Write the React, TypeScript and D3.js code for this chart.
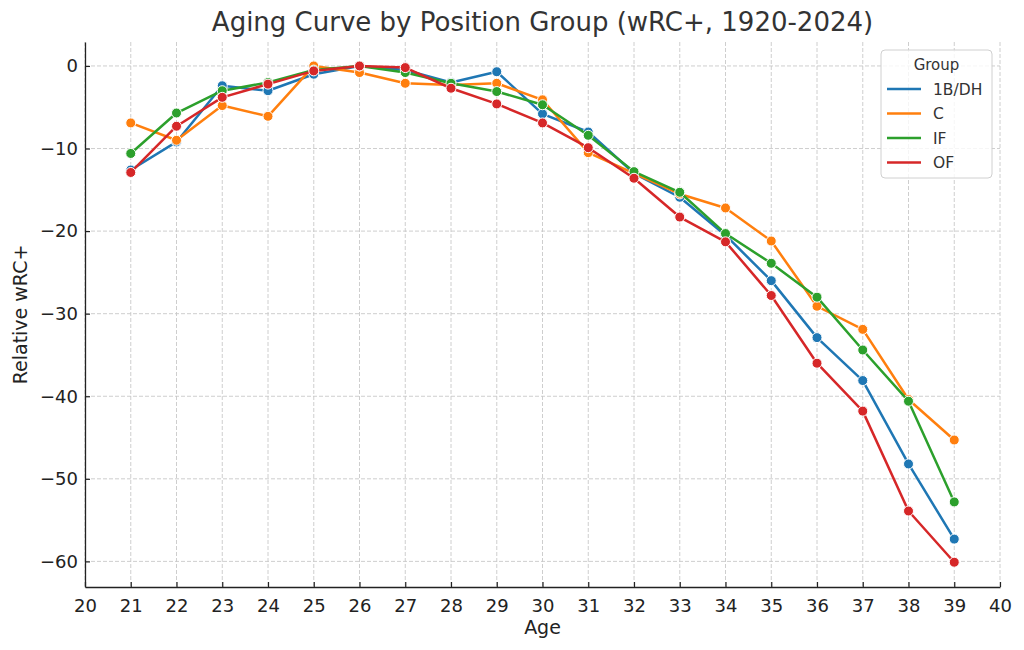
import React, { useEffect, useRef } from 'react';
import * as d3 from 'd3';

const ages = [21, 22, 23, 24, 25, 26, 27, 28, 29, 30, 31, 32, 33, 34, 35, 36, 37, 38, 39];
const groups = ['1B/DH', 'C', 'IF', 'OF'];
const colors = ['#1f77b4', '#ff7f0e', '#2ca02c', '#d62728'];

const firstBaseDh = [-12.6, -9.2, -2.4, -3.0, -1.0, 0, -0.5, -2.0, -0.7, -5.8, -8.0, -13.0, -15.9, -20.5, -26.0, -32.9, -38.1, -48.2, -57.3];
const catcher = [-6.9, -9.0, -4.8, -6.1, 0, -0.8, -2.1, -2.3, -2.1, -4.1, -10.5, -13.0, -15.5, -17.2, -21.2, -29.1, -31.9, -40.4, -45.3];
const infield = [-10.6, -5.7, -3.0, -2.0, -0.5, 0, -0.8, -2.1, -3.1, -4.7, -8.4, -12.8, -15.3, -20.3, -23.9, -28.0, -34.4, -40.6, -52.8];
const outfield = [-12.9, -7.3, -3.8, -2.2, -0.6, 0, -0.2, -2.7, -4.6, -6.9, -9.9, -13.6, -18.3, -21.3, -27.8, -36.0, -41.8, -53.9, -60.1];

const seriesValues = [firstBaseDh, catcher, infield, outfield];
const xTicks = d3.range(20, 41, 1);
const yTicks = [0, -10, -20, -30, -40, -50, -60];

const FONT = '"DejaVu Sans", sans-serif';

export default function App() {
  const svgRef = useRef<SVGSVGElement>(null);

  useEffect(() => {
    if (!svgRef.current) return;
    const svg = d3.select(svgRef.current);
    svg.selectAll('*').remove();

    const width = 1024;
    const height = 650;
    const margin = { top: 42, right: 24, bottom: 63, left: 85 };
    const innerWidth = width - margin.left - margin.right;
    const innerHeight = height - margin.top - margin.bottom;

    const xScale = d3.scaleLinear().domain([20, 40]).range([0, innerWidth]);
    const yScale = d3.scaleLinear().domain([-63.1, 2.9]).range([innerHeight, 0]);

    const g = svg.append('g').attr('transform', `translate(${margin.left}, ${margin.top})`);

    // grid
    g.append('g')
      .selectAll('line')
      .data(xTicks)
      .enter()
      .append('line')
      .attr('x1', d => xScale(d))
      .attr('x2', d => xScale(d))
      .attr('y1', 0)
      .attr('y2', innerHeight)
      .attr('stroke', '#c8c8c8')
      .attr('stroke-width', 0.9)
      .attr('stroke-dasharray', '4,2');

    g.append('g')
      .selectAll('line')
      .data(yTicks)
      .enter()
      .append('line')
      .attr('x1', 0)
      .attr('x2', innerWidth)
      .attr('y1', d => yScale(d))
      .attr('y2', d => yScale(d))
      .attr('stroke', '#c8c8c8')
      .attr('stroke-width', 0.9)
      .attr('stroke-dasharray', '4,2');

    // axes
    const xAxis = d3.axisBottom(xScale).tickValues(xTicks).tickSizeInner(-5).tickSizeOuter(0).tickPadding(12).tickFormat(d3.format('d'));
    g.append('g')
      .attr('transform', `translate(0, ${innerHeight})`)
      .call(xAxis)
      .call(s => s.select('.domain').attr('stroke', '#222').attr('stroke-width', 1.3))
      .call(s => s.selectAll('.tick line').attr('stroke', '#222').attr('stroke-width', 1.2))
      .call(s => s.selectAll('.tick text').attr('fill', '#222').attr('font-size', '18px').attr('font-family', FONT));

    const yAxis = d3.axisLeft(yScale).tickValues(yTicks).tickSizeInner(-5).tickSizeOuter(0).tickPadding(7)
      .tickFormat(d => (d as number) < 0 ? `\u2212${Math.abs(d as number)}` : `${d}`);
    g.append('g')
      .call(yAxis)
      .call(s => s.select('.domain').attr('stroke', '#222').attr('stroke-width', 1.3))
      .call(s => s.selectAll('.tick line').attr('stroke', '#222').attr('stroke-width', 1.2))
      .call(s => s.selectAll('.tick text').attr('fill', '#222').attr('font-size', '18px').attr('font-family', FONT));

    // lines and markers
    const line = d3.line<number>()
      .x((_, i) => xScale(ages[i]))
      .y(d => yScale(d));

    seriesValues.forEach((vals, k) => {
      g.append('path')
        .datum(vals)
        .attr('fill', 'none')
        .attr('stroke', colors[k])
        .attr('stroke-width', 2.5)
        .attr('stroke-linejoin', 'round')
        .attr('d', line);

      g.append('g')
        .selectAll('circle')
        .data(vals)
        .enter()
        .append('circle')
        .attr('cx', (_, i) => xScale(ages[i]))
        .attr('cy', d => yScale(d))
        .attr('r', 5)
        .attr('fill', colors[k])
        .attr('stroke', '#ffffff')
        .attr('stroke-width', 1);
    });

    // title and labels
    svg.append('text')
      .attr('x', margin.left + innerWidth / 2)
      .attr('y', 31)
      .attr('text-anchor', 'middle')
      .attr('font-family', FONT)
      .attr('font-size', '26px')
      .attr('fill', '#333')
      .text('Aging Curve by Position Group (wRC+, 1920-2024)');

    svg.append('text')
      .attr('x', margin.left + innerWidth / 2)
      .attr('y', 634)
      .attr('text-anchor', 'middle')
      .attr('font-family', FONT)
      .attr('font-size', '19px')
      .attr('fill', '#222')
      .text('Age');

    svg.append('text')
      .attr('transform', `translate(27, ${margin.top + innerHeight / 2}) rotate(-90)`)
      .attr('text-anchor', 'middle')
      .attr('font-family', FONT)
      .attr('font-size', '19px')
      .attr('fill', '#222')
      .text('Relative wRC+');

    // legend
    const legend = svg.append('g').attr('transform', 'translate(881, 50)');
    legend.append('rect')
      .attr('width', 111)
      .attr('height', 128)
      .attr('rx', 4)
      .attr('fill', 'rgba(255,255,255,0.8)')
      .attr('stroke', '#d0d0d0')
      .attr('stroke-width', 1);

    legend.append('text')
      .attr('x', 55.5)
      .attr('y', 20)
      .attr('text-anchor', 'middle')
      .attr('font-family', FONT)
      .attr('font-size', '15px')
      .attr('fill', '#333')
      .text('Group');

    groups.forEach((name, k) => {
      const yy = 39 + k * 24.5;
      legend.append('line')
        .attr('x1', 6)
        .attr('x2', 40)
        .attr('y1', yy)
        .attr('y2', yy)
        .attr('stroke', colors[k])
        .attr('stroke-width', 2.5);
      legend.append('text')
        .attr('x', 52)
        .attr('y', yy + 5.5)
        .attr('font-family', FONT)
        .attr('font-size', '15.5px')
        .attr('fill', '#333')
        .text(name);
    });
  }, []);

  return (
    <div style={{ position: 'absolute', left: 0, top: 0 }}>
      <svg ref={svgRef} width={1024} height={650} style={{ display: 'block', background: '#fff' }} />
    </div>
  );
}
